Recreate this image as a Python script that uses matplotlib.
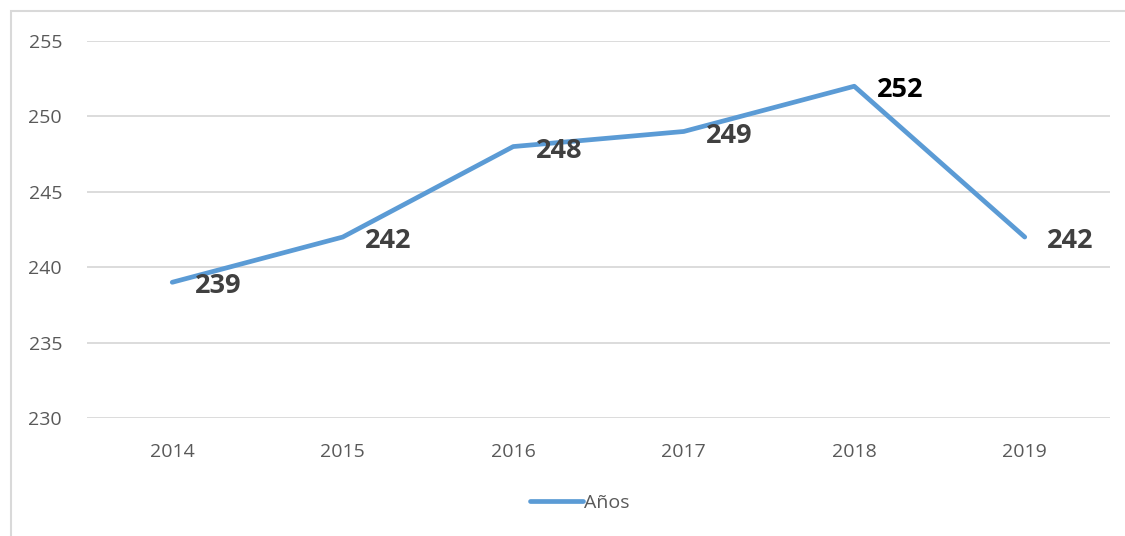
import matplotlib
matplotlib.use('Agg')
import matplotlib.pyplot as plt
from matplotlib.patches import Rectangle

years = ['2014', '2015', '2016', '2017', '2018', '2019']
values = [239, 242, 248, 249, 252, 242]
label_colors = ['#404040', '#404040', '#404040', '#404040', '#000000', '#404040']
yticks = [230, 235, 240, 245, 250, 255]

plt.rcParams['font.family'] = ['Open Sans', 'DejaVu Sans']

W, H = 1125, 536
fig = plt.figure(figsize=(W / 100, H / 100), dpi=100)
ax = fig.add_axes([87 / W, 1 - 418 / H, (1110 - 87) / W, (418 - 41) / H])

x = list(range(len(years)))
ax.plot(x, values, color='#5B9BD5', lw=3.4, solid_capstyle='round', label='Años')

for xi, v, c in zip(x, values, label_colors):
    ax.annotate(str(v), (xi, v), xytext=(33, -3), textcoords='offset points',
                ha='center', va='center', fontsize=19.5, fontweight='bold', color=c)

ax.set_xlim(-0.5, len(years) - 0.5)
ax.set_ylim(230, 255)
ax.set_yticks(yticks)
ax.set_xticks(x)
ax.set_xticklabels(years)
ax.grid(axis='y', color='#D9D9D9', lw=1.3)
ax.set_axisbelow(True)
for s in ax.spines.values():
    s.set_visible(False)
ax.tick_params(length=0, labelsize=14, colors='#595959')
ax.tick_params(axis='y', pad=18)
ax.tick_params(axis='x', pad=18)

fig.legend(loc='center', bbox_to_anchor=(580 / W, 1 - 503 / H), frameon=False,
           fontsize=14, labelcolor='#595959', handlelength=2.7, handletextpad=0.1)

fig.patches.append(Rectangle((11 / W, -0.05), (1135 - 11) / W, 1 - 11 / H + 0.05,
                             transform=fig.transFigure, fill=False,
                             edgecolor='#D9D9D9', lw=1.5))

fig.savefig('out.png', dpi=100, facecolor='white')
